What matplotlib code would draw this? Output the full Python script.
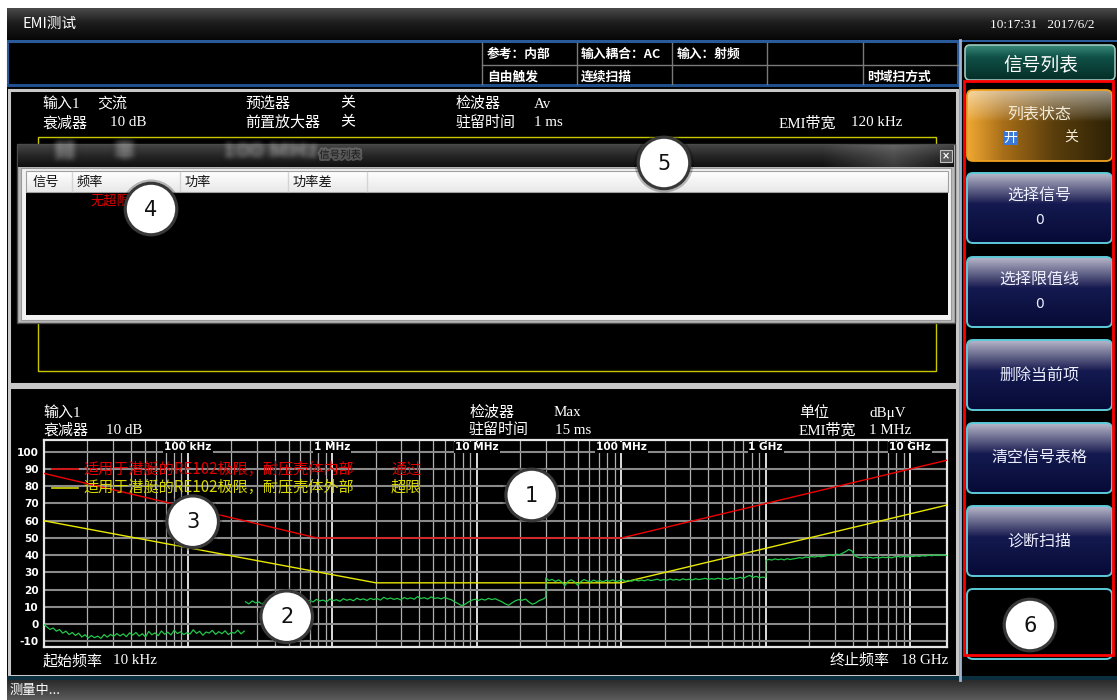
import numpy as np
import matplotlib
matplotlib.use("Agg")
import matplotlib.pyplot as plt
from matplotlib.patches import Rectangle, FancyBboxPatch, Circle
from matplotlib.colors import to_rgb
from matplotlib.ticker import LogLocator
import matplotlib.transforms as mtransforms
import matplotlib.patheffects as pe

CJK = ['Noto Sans CJK SC', 'DejaVu Sans']
SERIF = ['Liberation Serif', 'Noto Sans CJK SC']
plt.rcParams['font.family'] = CJK

# ---------------- data ----------------
y_ticks = [-10, 0, 10, 20, 30, 40, 50, 60, 70, 80, 90, 100]
decade_freqs = [1e5, 1e6, 1e7, 1e8, 1e9, 1e10]
decade_labels = ["100 kHz", "1 MHz", "10 MHz", "100 MHz", "1 GHz", "10 GHz"]
freq_start, freq_stop = 1e4, 1.8e10

legend_names = ["适用于潜艇的RE102极限，耐压壳体内部", "适用于潜艇的RE102极限，耐压壳体外部"]
legend_status = ["通过", "超限"]

limit_inner_freq = [1e4, 7.8e5, 1e8, 1.8e10]
limit_inner_db = [87.5, 50.0, 50.0, 95.1]
limit_outer_freq = [1e4, 2e6, 1e8, 1.8e10]
limit_outer_db = [60.0, 24.0, 24.0, 69.1]

seg_ranges = [(1e4, 2.45e5), (2.5e5, 3.0e7), (3.0e7, 1.0e9), (1.0e9, 1.8e10)]
trace_seg1 = [0.0, -1.5, -3.0, -2.2, -4.0, -3.1, -5.2, -4.0, -6.0, -4.8, -6.5, -5.2, -7.4, -6.1, -8.0, -6.6,
              -7.8, -6.9, -8.2, -6.0, -7.5, -5.9, -7.0, -5.4, -6.8, -5.6, -7.2, -5.0, -6.3, -4.8, -6.9, -5.5,
              -7.4, -4.2, -6.1, -5.0, -6.6, -3.9, -5.8, -4.6, -6.2, -3.5, -5.4, -4.4, -6.0, -4.9, -5.7, -3.2,
              -5.3, -4.1, -6.4, -4.5, -5.1, -3.6, -5.9, -4.3, -5.5, -3.8, -6.0, -4.7, -5.2, -3.4, -5.6, -4.0]
trace_seg2 = [13.0, 11.8, 13.5, 12.4, 12.9, 11.6, 13.8, 12.7, 13.2, 12.0,
              14.1, 12.9, 13.6, 12.5, 14.0, 13.2, 12.8, 14.3, 13.1, 13.9,
              12.9, 14.4, 13.5, 14.0, 13.0, 14.6, 13.7, 14.2, 13.3, 14.8,
              13.9, 14.5, 13.6, 15.1, 14.2, 14.7, 13.8, 15.0, 14.3, 14.9,
              14.0, 15.6, 14.6, 15.2, 14.4, 15.0, 14.1, 15.5, 14.7, 15.3,
              14.5, 16.0, 14.9, 15.4, 14.6, 15.8, 15.0, 15.3, 14.7, 15.5,
              14.8, 14.2, 13.0, 12.0, 10.8, 11.5, 12.8, 13.9, 14.5, 13.8,
              14.6, 14.0, 15.0, 14.3, 14.8, 13.9, 13.0, 11.8, 11.0, 12.4,
              13.6, 14.3, 13.9, 14.6, 12.9, 11.6, 12.3, 13.7, 14.4, 15.6]
trace_seg3 = [26.8, 25.3, 26.0, 24.8, 25.7, 24.5, 22.4, 24.9, 25.8, 24.6,
              22.6, 24.7, 25.9, 25.1, 24.4, 25.6, 24.8, 25.3, 24.6, 25.5,
              24.9, 25.7, 24.7, 25.2, 25.9, 24.9, 25.4, 25.0, 25.8, 25.1,
              25.6, 25.2, 25.9, 25.3, 25.7, 26.1, 25.4, 25.9, 25.5, 26.2,
              25.6, 26.0, 25.5, 26.3, 25.8, 26.1, 25.7, 26.4, 25.9, 26.2,
              26.6, 26.0, 26.4, 26.1, 26.7, 26.2, 26.5, 26.0, 26.8, 26.3,
              26.6, 27.2, 26.5, 27.6, 28.3, 27.1, 27.8, 26.9, 27.3, 27.0]
trace_seg4 = [37.0, 37.6, 37.2, 37.9, 37.4, 37.8, 37.3, 38.0, 37.5, 37.9,
              38.2, 38.6, 38.3, 39.0, 38.7, 39.3, 38.9, 39.5, 39.1, 39.4,
              39.8, 40.2, 39.7, 40.6, 40.3, 41.2, 42.1, 43.3, 42.6, 39.6,
              38.8, 38.4, 38.9, 38.5, 38.8, 38.3, 38.7, 38.4, 38.9, 38.6,
              38.9, 38.5, 39.1, 39.3, 38.9, 39.4, 39.0, 39.5, 39.2, 39.6,
              39.3, 39.8, 39.5, 40.1, 39.7, 40.2, 39.8, 40.3, 40.0, 39.8]

info_row1 = [("参考：内部", 487), ("输入耦合：AC", 581), ("输入：射频", 677)]
info_row2 = [("自由触发", 487), ("连续扫描", 581), ("时域扫方式", 867)]
upper_row1 = [("输入1", 42), ("交流", 97), ("预选器", 245), ("关", 340), ("检波器", 456), ("Av", 534)]
upper_row2 = [("衰减器", 42), ("10 dB", 110), ("前置放大器", 245), ("关", 340), ("驻留时间", 456),
              ("1 ms", 534), ("EMI带宽", 779), ("120 kHz", 851)]
lower_row1 = [("输入1", 43), ("检波器", 469), ("Max", 554), ("单位", 799), ("dBμV", 869)]
lower_row2 = [("衰减器", 43), ("10 dB", 106), ("驻留时间", 469), ("15 ms", 555), ("EMI带宽", 799), ("1 MHz", 869)]
lower_row3 = [("起始频率", 43), ("10 kHz", 113), ("终止频率", 830), ("18 GHz", 901)]
table_headers = [("信号", 33), ("频率", 77), ("功率", 185), ("功率差", 293)]
menu_title = "信号列表"
menu_buttons = [("选择信号", "0"), ("选择限值线", "0"), ("删除当前项", None), ("清空信号表格", None), ("诊断扫描", None)]
badges = [(1, 531.7, 495), (2, 286.7, 616.7), (3, 192.7, 521.7), (4, 151, 209), (5, 664, 163), (6, 1030, 625)]

# ---------------- helpers ----------------
W, H = 1117, 700
fig = plt.figure(figsize=(W / 100, H / 100), dpi=100, facecolor='white')
bg = fig.add_axes([0, 0, 1, 1], zorder=1)
bg.axis('off')


def grad(ax, x0, y0, x1, y1, stops, horizontal=False, clip=None, z=1, alpha_stops=None):
    n = 200
    t = np.linspace(0, 1, n)
    pos = [p for p, _ in stops]
    cols = np.array([to_rgb(c) for _, c in stops])
    arr = np.stack([np.interp(t, pos, cols[:, k]) for k in range(3)], axis=-1)
    if alpha_stops is not None:
        a = np.interp(t, [p for p, _ in alpha_stops], [v for _, v in alpha_stops])
        arr = np.concatenate([arr, a[:, None]], axis=-1)
    arr = arr[None, :, :] if horizontal else arr[:, None, :]
    im = ax.imshow(arr, extent=[x0, x1, y1, y0], origin='upper', aspect='auto',
                   interpolation='bilinear', zorder=z)
    if clip is not None:
        im.set_clip_path(clip)
    return im


def rect(ax, x0, y0, x1, y1, fc='black', ec='none', lw=0, z=1):
    r = Rectangle((x0, y0), x1 - x0, y1 - y0, facecolor=fc, edgecolor=ec, linewidth=lw, zorder=z)
    ax.add_patch(r)
    return r


def T(ax, x, y, s, size=10.8, color='white', fam=None, weight='normal', ha='left', va='center', z=6, **kw):
    return ax.text(x, y, s, fontsize=size, color=color, family=fam or CJK, fontweight=weight,
                   ha=ha, va=va, zorder=z, **kw)


def blur_filter(img, dpi):
    k = 3
    pad = 4 * k
    a = np.pad(img, ((pad, pad), (pad, pad), (0, 0)))
    for _ in range(2):
        c = np.cumsum(np.pad(a, ((k + 1, k), (0, 0), (0, 0))), axis=0)
        a = (c[2 * k + 1:] - c[:-2 * k - 1]) / (2 * k + 1)
        c = np.cumsum(np.pad(a, ((0, 0), (k + 1, k), (0, 0))), axis=1)
        a = (c[:, 2 * k + 1:] - c[:, :-2 * k - 1]) / (2 * k + 1)
    return a, -pad, -pad


# ---------------- background frame ----------------
rect(bg, 7, 8, W, 680, fc='black', z=0.5)
grad(bg, 7, 8, W, 40, [(0, '#4a4a4a'), (0.45, '#1e1e1e'), (1, '#060606')], z=1)
T(bg, 22, 24, "EMI测试", size=10.5)
T(bg, 990, 25, "10:17:31   2017/6/2", size=9.5, fam=SERIF)
rect(bg, 7, 40, W, 42, fc='#2b5d9c', z=2)

# info bar
rect(bg, 7.5, 41.5, 958, 86, fc='black', ec='#2a5a9a', lw=1.5, z=2)
rect(bg, 7, 84, 958, 86.5, fc='#1f4f8f', z=2.1)
for xv in [482, 577, 672, 767, 863]:
    bg.plot([xv, xv], [43, 84], color='#7a7a7a', lw=1, zorder=3)
bg.plot([482, 958], [65, 65], color='#7a7a7a', lw=1, zorder=3)
for s, x in info_row1:
    T(bg, x, 54, s, size=9.2, weight='bold')
for s, x in info_row2:
    T(bg, x, 77, s, size=9.2, weight='bold')

# upper / lower panels
rect(bg, 8.5, 89.5, 956.5, 384, fc='black', ec='#c8c8c8', lw=2.2, z=2)
rect(bg, 8.5, 387, 956.5, 675.5, fc='black', ec='#c8c8c8', lw=2.2, z=2)
rect(bg, 7, 676, W, 680, fc='#0b2f3f', z=2)
grad(bg, 7, 680, W, H, [(0, '#2a2a2a'), (1, '#5c5c5c')], z=2)
T(bg, 10, 690, "测量中...", size=9.5)

for s, x in upper_row1:
    T(bg, x, 104, s, fam=SERIF)
for s, x in upper_row2:
    T(bg, x, 123, s, fam=SERIF)
rect(bg, 38, 137, 936, 371, fc='none', ec='#c8c800', lw=1.0, z=3)

# signal list dialog
rect(bg, 17, 144, 955, 323, fc='#b8b8b8', ec='#4a4a4a', lw=1.0, z=4)
grad(bg, 18, 145, 954, 167, [(0, '#444444'), (0.5, '#262626'), (1, '#101010')], z=4.1)
grad(bg, 820, 145, 954, 167, [(0, '#ffffff'), (1, '#ffffff')], horizontal=True, z=4.15,
     alpha_stops=[(0, 0.0), (0.55, 0.18), (0.8, 0.08), (1, 0.0)])
for s, x, fs in [("频", 52, 17), ("率", 112, 17), ("100 MHz", 222, 17)]:
    t = T(bg, x, 152, s, size=fs, color='#d8d8d8', weight='bold', z=4.2, alpha=0.5)
    t.set_agg_filter(blur_filter)
    t.set_rasterized(True)
T(bg, 340, 155, "信号列表", size=7.5, color='#1c1c1c', ha='center', z=4.3,
  path_effects=[pe.withStroke(linewidth=3, foreground='#8a8a8a', alpha=0.5)])
rect(bg, 940, 150, 952, 162, fc='#5a5a5a', ec='#c0c0c0', lw=0.8, z=4.3)
T(bg, 946, 156, "×", size=7, ha='center', fam=['DejaVu Sans'], weight='bold', z=4.4)
rect(bg, 21, 168, 951, 320, fc='#f2f2f2', ec='#9a9a9a', lw=0.8, z=4.2)
grad(bg, 26, 171, 948, 192, [(0, '#ffffff'), (1, '#e8e8e8')], z=4.3)
rect(bg, 26, 171, 948, 192, fc='none', ec='#a0a0a0', lw=0.8, z=4.35)
rect(bg, 26, 192, 948, 315, fc='black', z=4.3)
for xv in [72, 180, 288, 367]:
    bg.plot([xv, xv], [172, 191], color='#d4d4d4', lw=1, zorder=4.4)
for s, x in table_headers:
    T(bg, x, 182, s, size=9.5, color='#111111', z=4.5)
T(bg, 91, 201, "无超限", size=9.5, color='#e00000', z=4.5)

# right menu panel
bg.plot([959.5, 959.5], [40, 680], color='#9fb4cc', lw=2, zorder=3)
hdr = FancyBboxPatch((965, 45), 150, 35, boxstyle='round,pad=0,rounding_size=5',
                     facecolor='none', edgecolor='#9cc8c0', linewidth=1.2, zorder=3.2)
bg.add_patch(hdr)
grad(bg, 965, 45, 1115, 80, [(0, '#3a8a7a'), (0.35, '#0f5046'), (1, '#062e28')], clip=hdr, z=3.1)
T(bg, 1041, 65, menu_title, size=13.5, ha='center', z=3.5)

rect(bg, 964, 80.5, 1113, 655, fc='none', ec='#ff0000', lw=2.0, z=4)

# 列表状态 (gold)
gb = FancyBboxPatch((967, 90), 145, 71, boxstyle='round,pad=0,rounding_size=6',
                    facecolor='none', edgecolor='#f0a020', linewidth=1.3, zorder=3.3)
bg.add_patch(gb)
grad(bg, 967, 90, 1112, 161, [(0, '#f0a832'), (0.25, '#a86e18'), (0.6, '#5a3e0c'), (1, '#2e2206')],
     horizontal=True, clip=gb, z=3.1)
grad(bg, 967, 90, 1112, 161, [(0, '#ffffff'), (1, '#ffffff')], clip=gb, z=3.2,
     alpha_stops=[(0, 0.55), (0.35, 0.15), (0.45, 0.0), (1, 0.0)])
T(bg, 1039, 114, "列表状态", size=11.5, color='#f4ecd8', ha='center', z=3.5)
rect(bg, 1003, 131, 1018, 145, fc='#3a78d8', z=3.4)
T(bg, 1010.5, 138, "开", size=10, ha='center', z=3.5)
T(bg, 1071, 138, "关", size=10, color='#f4ecd8', ha='center', z=3.5)

# navy buttons
tops = [173, 257, 340, 423, 506]
for (label, val), top in zip(menu_buttons, tops):
    b = FancyBboxPatch((967, top), 145, 70, boxstyle='round,pad=0,rounding_size=6',
                       facecolor='none', edgecolor='#5ccad8', linewidth=1.4, zorder=3.3)
    bg.add_patch(b)
    grad(bg, 967, top, 1112, top + 70,
         [(0, '#b8b8cc'), (0.12, '#8c8ca8'), (0.38, '#2e3060'), (0.44, '#141a50'), (1, '#070a36')],
         clip=b, z=3.1)
    if val is None:
        T(bg, 1039, top + 35, label, size=11.5, ha='center', z=3.5, color='#eef0ff')
    else:
        T(bg, 1039, top + 22, label, size=11.5, ha='center', z=3.5, color='#eef0ff')
        T(bg, 1039, top + 47, val, size=10, ha='center', z=3.5, fam=['DejaVu Sans'], color='#eef0ff')
last = FancyBboxPatch((967, 589), 145, 70, boxstyle='round,pad=0,rounding_size=6',
                      facecolor='black', edgecolor='#5ccad8', linewidth=1.4, zorder=3.3)
bg.add_patch(last)

bg.set_xlim(0, W)
bg.set_ylim(H, 0)

# ---------------- chart ----------------
ax = fig.add_axes([43.6 / W, (H - 647) / H, (947 - 43.6) / W, (647 - 440) / H], zorder=2)
ax.set_facecolor('black')
ax.set_xscale('log')
ax.set_xlim(freq_start, freq_stop)
ax.set_ylim(-13.2, 106.8)
ax.xaxis.set_major_locator(LogLocator(base=10, numticks=20))
ax.xaxis.set_minor_locator(LogLocator(base=10, subs=np.arange(2, 10), numticks=200))
ax.tick_params(axis='x', which='both', length=0, labelbottom=False)
ax.set_yticks(y_ticks)
ax.set_yticklabels([str(v) for v in y_ticks])
ax.tick_params(axis='y', length=0, pad=3.4, labelcolor='white', labelsize=7.6)
for lab in ax.get_yticklabels():
    lab.set_fontweight('bold')
    lab.set_family(['DejaVu Sans'])
ax.set_axisbelow(True)
ax.grid(True, which='major', axis='y', color='#8a8a8a', lw=1.5)
ax.grid(True, which='major', axis='x', color='#dcdcdc', lw=1.4)
ax.grid(True, which='minor', axis='x', color='#b0b0b0', lw=0.9)
for sp in ax.spines.values():
    sp.set_color('#e6e6e6')
    sp.set_linewidth(1.6)

ax.plot(limit_inner_freq, limit_inner_db, color='#f00000', lw=1.0, zorder=3)
ax.plot(limit_outer_freq, limit_outer_db, color='#e8e800', lw=1.0, zorder=3)

segs = [trace_seg1, trace_seg2, trace_seg3, trace_seg4]
seg_f = [np.geomspace(a, b, len(v)) for (a, b), v in zip(seg_ranges, segs)]
ax.plot(seg_f[0], trace_seg1, color='#22c84a', lw=0.9, zorder=4)
ax.plot(np.concatenate(seg_f[1:]), np.concatenate(segs[1:]), color='#22c84a', lw=0.9, zorder=4)

trans = mtransforms.blended_transform_factory(ax.transData, ax.transAxes)
for f, lab in zip(decade_freqs, decade_labels):
    ax.text(f, 0.964, lab, transform=trans, ha='center', va='center', color='white', fontsize=7.6,
            fontweight='bold', family=['DejaVu Sans'], zorder=5,
            bbox=dict(facecolor='black', edgecolor='none', pad=0.6))

# ---------------- overlay ----------------
ov = fig.add_axes([0, 0, 1, 1], zorder=3)
ov.axis('off')
ov.set_xlim(0, W)
ov.set_ylim(H, 0)

for s, x in lower_row1:
    T(ov, x, 413, s, fam=SERIF)
for s, x in lower_row2:
    T(ov, x, 430, s, fam=SERIF)
for s, x in lower_row3:
    T(ov, x, 661, s, fam=SERIF)

leg_colors = ['#e00000', '#d8d800']
for i, (name, status, col) in enumerate(zip(legend_names, legend_status, leg_colors)):
    yy = 469 + i * 18.5
    ov.plot([52, 78], [yy, yy], color=col, lw=1.2, zorder=4)
    T(ov, 83, yy, name, size=10.9, color=col, z=4)
    T(ov, 391, yy, status, size=10.9, color=col, z=4)

for n, x, y in badges:
    ov.add_patch(Circle((x, y), 28.5, facecolor='none', edgecolor='#000000', lw=1.5, alpha=0.25, zorder=7))
    ov.add_patch(Circle((x, y), 25.8, facecolor='white', edgecolor='#383838', lw=2.3, zorder=8))
    T(ov, x, y + 0.5, str(n), size=15, color='#111111', ha='center', fam=['DejaVu Sans'], z=9)

fig.savefig('out.png', dpi=100, facecolor='white')
